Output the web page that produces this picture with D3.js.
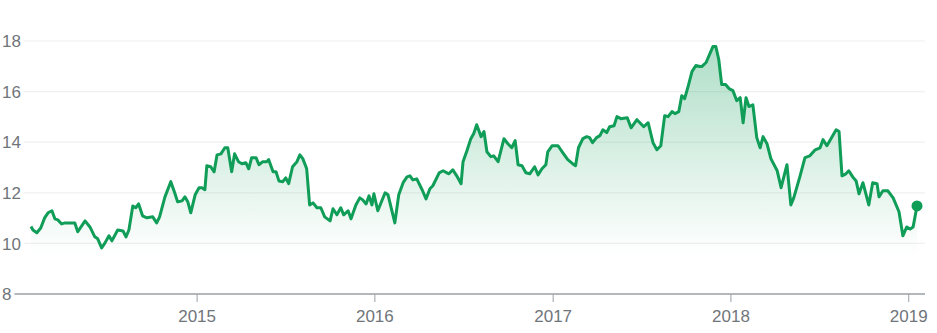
<!DOCTYPE html>
<html>
<head>
<meta charset="utf-8">
<script src="https://cdn.jsdelivr.net/npm/d3@7"></script>
<style>
  body { margin: 0; background: #fff; }
  text { font-family: Arial, "Liberation Sans", sans-serif; }
</style>
</head>
<body>
<div id="chart"></div>
<script>
// weekly closes
const dates = [
  "2014-01-25","2014-01-29","2014-02-06","2014-02-14","2014-02-22","2014-03-01","2014-03-09","2014-03-15","2014-03-21","2014-03-29",
  "2014-04-05","2014-04-15","2014-04-25","2014-05-01","2014-05-16","2014-05-26","2014-06-05","2014-06-11","2014-06-19","2014-06-26",
  "2014-07-04","2014-07-10","2014-07-22","2014-08-02","2014-08-08","2014-08-14","2014-08-22","2014-08-28","2014-09-03","2014-09-11",
  "2014-09-20","2014-10-02","2014-10-10","2014-10-16","2014-10-27","2014-11-08","2014-11-16","2014-11-22","2014-12-01","2014-12-07",
  "2014-12-13","2014-12-19","2014-12-28","2015-01-05","2015-01-11","2015-01-17","2015-01-21","2015-01-29","2015-02-05","2015-02-11",
  "2015-02-19","2015-02-27","2015-03-05","2015-03-13","2015-03-19","2015-03-27","2015-04-03","2015-04-11","2015-04-17","2015-04-23",
  "2015-05-02","2015-05-08","2015-05-16","2015-05-24","2015-05-28","2015-06-06","2015-06-12","2015-06-18","2015-06-26","2015-07-02",
  "2015-07-08","2015-07-16","2015-07-25","2015-07-31","2015-08-06","2015-08-14","2015-08-20","2015-08-27","2015-09-04","2015-09-12",
  "2015-09-20","2015-10-01","2015-10-07","2015-10-15","2015-10-23","2015-10-29","2015-11-07","2015-11-13","2015-11-23","2015-12-01",
  "2015-12-07","2015-12-14","2015-12-20","2015-12-26","2015-12-30","2016-01-07","2016-01-22","2016-01-28","2016-02-11","2016-02-19",
  "2016-02-28","2016-03-07","2016-03-13","2016-03-19","2016-03-27","2016-04-07","2016-04-15","2016-04-23","2016-04-29","2016-05-12",
  "2016-05-20","2016-05-28","2016-06-01","2016-06-09","2016-06-17","2016-06-26","2016-06-30","2016-07-08","2016-07-16","2016-07-22",
  "2016-07-28","2016-08-06","2016-08-12","2016-08-18","2016-08-26","2016-09-01","2016-09-10","2016-09-22","2016-09-30","2016-10-08",
  "2016-10-15","2016-10-21","2016-10-29","2016-11-06","2016-11-14","2016-11-24","2016-12-01","2016-12-09","2016-12-17","2016-12-21",
  "2016-12-30","2017-01-11","2017-01-21","2017-01-31","2017-02-10","2017-02-16","2017-02-22","2017-03-03","2017-03-11","2017-03-17",
  "2017-03-23","2017-03-31","2017-04-07","2017-04-13","2017-04-21","2017-04-27","2017-05-06","2017-05-12","2017-05-20","2017-06-02",
  "2017-06-10","2017-06-22","2017-07-02","2017-07-06","2017-07-15","2017-07-25","2017-08-02","2017-08-10","2017-08-18","2017-08-25",
  "2017-09-02","2017-09-08","2017-09-16","2017-09-22","2017-09-28","2017-10-05","2017-10-13","2017-10-21","2017-10-29","2017-11-02",
  "2017-11-11","2017-11-25","2017-12-01","2017-12-07","2017-12-13","2017-12-21","2017-12-28","2018-01-05","2018-01-13","2018-01-20",
  "2018-01-26","2018-02-01","2018-02-07","2018-02-15","2018-02-23","2018-03-02","2018-03-08","2018-03-16","2018-03-24","2018-04-06",
  "2018-04-14","2018-04-26","2018-05-04","2018-05-10","2018-05-23","2018-06-02","2018-06-12","2018-06-23","2018-07-03","2018-07-09",
  "2018-07-17","2018-08-05","2018-08-11","2018-08-17","2018-08-25","2018-08-31","2018-09-08","2018-09-15","2018-09-21","2018-09-29",
  "2018-10-11","2018-10-19","2018-10-28","2018-11-01","2018-11-09","2018-11-19","2018-11-30","2018-12-12","2018-12-20","2018-12-28",
  "2019-01-04","2019-01-10","2019-01-18"
];
const prices = [
  10.67,10.53,10.42,10.61,11.01,11.21,11.29,10.97,10.93,10.77,
  10.81,10.81,10.81,10.46,10.89,10.65,10.26,10.18,9.82,10.02,
  10.30,10.10,10.53,10.49,10.26,10.53,11.48,11.41,11.56,11.09,
  11.01,11.05,10.81,11.05,11.84,12.44,12.00,11.64,11.68,11.84,
  11.64,11.21,11.92,12.20,12.20,12.12,13.07,13.03,12.83,13.50,
  13.54,13.78,13.78,12.83,13.54,13.23,13.15,13.19,12.95,13.39,
  13.39,13.11,13.23,13.23,13.31,12.83,12.83,12.47,12.44,12.59,
  12.36,13.03,13.23,13.50,13.35,12.95,11.52,11.60,11.41,11.41,
  11.05,10.89,11.37,11.13,11.41,11.13,11.29,10.97,11.52,11.80,
  11.72,11.56,11.88,11.52,11.96,11.29,12.00,11.92,10.81,11.92,
  12.40,12.63,12.67,12.51,12.55,12.12,11.76,12.16,12.28,12.79,
  12.87,12.79,12.75,12.91,12.67,12.36,13.23,13.66,14.14,14.34,
  14.69,14.22,14.42,13.62,13.43,13.46,13.23,14.14,13.94,13.78,
  14.06,13.11,13.07,12.79,12.75,13.03,12.71,12.95,13.11,13.62,
  13.86,13.86,13.58,13.31,13.15,13.07,13.78,14.14,14.22,14.18,
  13.98,14.18,14.26,14.49,14.38,14.61,14.65,15.01,14.93,14.97,
  14.57,14.89,14.69,14.61,14.77,13.98,13.70,13.86,15.05,15.01,
  15.21,15.13,15.21,15.84,15.72,16.20,16.79,17.03,16.99,16.99,
  17.15,17.78,17.78,17.27,16.28,16.28,16.12,16.04,15.64,15.76,
  14.77,15.76,15.41,15.48,14.18,13.78,14.22,13.94,13.35,12.87,
  12.20,13.11,11.52,11.80,12.67,13.39,13.46,13.70,13.78,14.10,
  13.86,14.49,14.42,12.67,12.75,12.87,12.63,12.47,11.96,12.40,
  11.52,12.40,12.36,11.84,12.08,12.08,11.80,11.25,10.30,10.65,
  10.57,10.65,11.48
];
const yTicks = [8, 10, 12, 14, 16, 18];
const yearTicks = ["2015-01-01","2016-01-01","2017-01-01","2018-01-01","2019-01-01"];

const width = 937, height = 333;
const green = "#0f9d58";
const parse = d3.timeParse("%Y-%m-%d");
const data = dates.map((d, i) => ({date: parse(d), value: prices[i]}));

const svg = d3.select("#chart").append("svg")
    .attr("width", width)
    .attr("height", height);

const x = d3.scaleTime()
    .domain(d3.extent(data, d => d.date))
    .range([31, 917]);
const y = d3.scaleLinear()
    .domain([8, 18])
    .range([294, 41]);

const defs = svg.append("defs");
const grad = defs.append("linearGradient")
    .attr("id", "areaFill")
    .attr("gradientUnits", "userSpaceOnUse")
    .attr("x1", 0).attr("x2", 0)
    .attr("y1", y(18)).attr("y2", y(9.5));
grad.append("stop").attr("offset", "0%").attr("stop-color", green).attr("stop-opacity", 0.34);
grad.append("stop").attr("offset", "100%").attr("stop-color", green).attr("stop-opacity", 0);

// y labels + gridlines (gridline starts right after its label)
const yg = svg.append("g");
yTicks.forEach(t => {
    const lbl = yg.append("text")
        .attr("x", 2)
        .attr("y", y(t))
        .attr("dy", "0.36em")
        .style("font-size", "17px")
        .style("fill", "#70757a")
        .text(t);
    const end = 2 + lbl.node().getComputedTextLength() + 3;
    yg.append("line")
        .attr("x1", end).attr("x2", 925)
        .attr("y1", y(t)).attr("y2", y(t))
        .style("stroke", t === 8 ? "#9aa0a6" : "#f0f0f0")
        .style("stroke-width", t === 8 ? 1.5 : 1.2);
});

// x axis ticks
const xg = svg.append("g");
yearTicks.forEach(s => {
    const d = parse(s);
    xg.append("line")
        .attr("x1", x(d)).attr("x2", x(d))
        .attr("y1", y(8)).attr("y2", y(8) + 8)
        .style("stroke", "#9aa0a6")
        .style("stroke-width", 1);
    xg.append("text")
        .attr("x", x(d))
        .attr("y", 322)
        .attr("text-anchor", "middle")
        .style("font-size", "17px")
        .style("fill", "#70757a")
        .text(d3.timeFormat("%Y")(d));
});

const area = d3.area()
    .x(d => x(d.date))
    .y0(y(8))
    .y1(d => y(d.value));
svg.append("path")
    .datum(data)
    .attr("d", area)
    .style("fill", "url(#areaFill)");

const line = d3.line()
    .x(d => x(d.date))
    .y(d => y(d.value));
svg.append("path")
    .datum(data)
    .attr("d", line)
    .style("fill", "none")
    .style("stroke", green)
    .style("stroke-width", 3)
    .style("stroke-linejoin", "round");

const last = data[data.length - 1];
svg.append("circle")
    .attr("cx", x(last.date))
    .attr("cy", y(last.value))
    .attr("r", 5.5)
    .style("fill", green);
</script>
</body>
</html>
